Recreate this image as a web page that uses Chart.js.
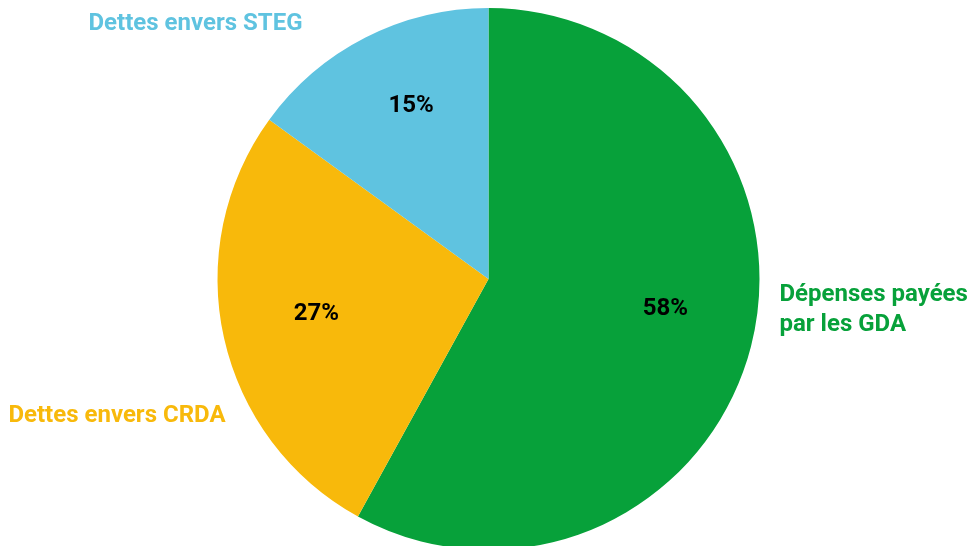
<!DOCTYPE html>
<html>
<head>
<meta charset="utf-8">
<script src="https://cdn.jsdelivr.net/npm/chart.js@4.4.0/dist/chart.umd.min.js"></script>
<style>
  html, body { margin: 0; padding: 0; background: #fff; overflow: hidden; }
  #wrap { width: 975px; height: 558px; position: relative; }
</style>
</head>
<body>
<div id="wrap"><canvas id="pieChart"></canvas></div>
<script>
// Répartition des dépenses (%)
const categories = ['Dépenses payées par les GDA', 'Dettes envers CRDA', 'Dettes envers STEG'];
const shares = [58, 27, 15];
const sliceColors = ['#07A13A', '#F8B90B', '#5FC3E0'];

// outer category labels: lines, anchor offset from pie centre, alignment
const outerLabels = [
  { lines: ['Dépenses payées', 'par les GDA'], dx: 291, dy: 31, align: 'left' },
  { lines: ['Dettes envers CRDA'], dx: -263, dy: 137, align: 'right' },
  { lines: ['Dettes envers STEG'], dx: -186, dy: -255, align: 'right' }
];
// small shifts of the percentage labels away from the slice bisector
const insideNudge = [[1, -15], [5, -5], [5, -11]];

const FONT = '"Roboto", "Liberation Sans", sans-serif';

const pieLabels = {
  id: 'pieLabels',
  afterDatasetsDraw(chart) {
    const ctx = chart.ctx;
    const arcs = chart.getDatasetMeta(0).data;
    ctx.save();
    ctx.textBaseline = 'middle';

    // percentages inside the slices
    ctx.font = 'bold 24px ' + FONT;
    ctx.fillStyle = '#000';
    ctx.textAlign = 'center';
    arcs.forEach((arc, i) => {
      const mid = (arc.startAngle + arc.endAngle) / 2;
      const r = arc.outerRadius * 0.67;
      const x = arc.x + Math.cos(mid) * r + insideNudge[i][0];
      const y = arc.y + Math.sin(mid) * r + insideNudge[i][1];
      ctx.fillText(shares[i] + '%', x, y);
    });

    // category names around the pie
    ctx.font = 'bold 24px ' + FONT;
    arcs.forEach((arc, i) => {
      const lab = outerLabels[i];
      ctx.fillStyle = sliceColors[i];
      ctx.textAlign = lab.align;
      const lh = 30;
      const top = arc.y + lab.dy - (lab.lines.length - 1) * lh / 2;
      lab.lines.forEach((line, k) => {
        ctx.fillText(line, arc.x + lab.dx, top + k * lh);
      });
    });
    ctx.restore();
  }
};

new Chart(document.getElementById('pieChart'), {
  type: 'pie',
  data: {
    labels: categories,
    datasets: [{
      data: shares,
      backgroundColor: sliceColors,
      borderWidth: 0,
      hoverOffset: 0
    }]
  },
  options: {
    responsive: true,
    maintainAspectRatio: false,
    animation: false,
    layout: { padding: { top: 8, bottom: 8, left: 2, right: 0 } },
    plugins: {
      legend: { display: false },
      tooltip: { enabled: false }
    }
  },
  plugins: [pieLabels]
});
</script>
</body>
</html>
